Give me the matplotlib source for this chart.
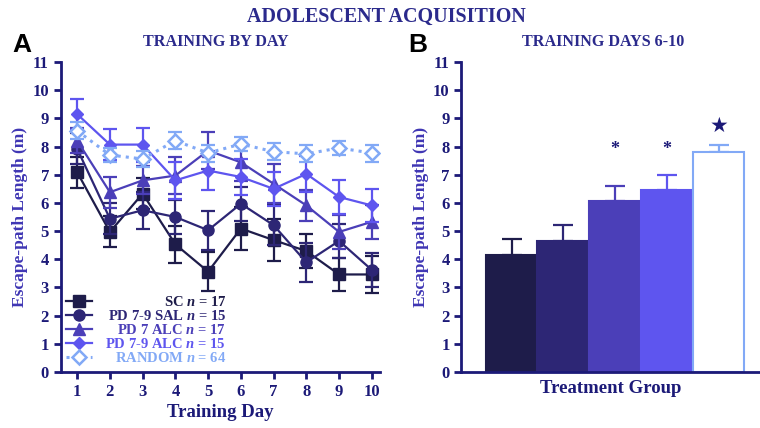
import numpy as np
import matplotlib
matplotlib.use("Agg")
import matplotlib.pyplot as plt

# ---- data ----
days = [1, 2, 3, 4, 5, 6, 7, 8, 9, 10]

sc = [7.09, 4.97, 6.33, 4.53, 3.56, 5.09, 4.68, 4.29, 3.46, 3.46]
sc_err = [0.55, 0.55, 0.55, 0.65, 0.70, 0.75, 0.75, 0.60, 0.60, 0.65]

sal = [7.92, 5.44, 5.74, 5.50, 5.03, 5.97, 5.21, 3.89, 4.65, 3.62]
sal_err = [0.55, 0.55, 0.65, 0.60, 0.70, 0.60, 0.70, 0.70, 0.60, 0.60]

alc7 = [8.21, 6.38, 6.80, 6.97, 7.86, 7.44, 6.68, 5.91, 4.97, 5.33]
alc7_err = [0.45, 0.55, 0.50, 0.65, 0.65, 0.65, 0.70, 0.55, 0.60, 0.60]

alc79 = [9.15, 8.07, 8.07, 6.80, 7.15, 6.92, 6.50, 7.03, 6.21, 5.91]
alc79_err = [0.55, 0.55, 0.60, 0.65, 0.70, 0.65, 0.60, 0.65, 0.60, 0.60]

rand = [8.56, 7.70, 7.56, 8.21, 7.77, 8.09, 7.82, 7.74, 7.95, 7.77]
rand_err = [0.30, 0.25, 0.30, 0.30, 0.30, 0.25, 0.30, 0.30, 0.25, 0.30]

groups = ["SC", "PD 7-9 SAL", "PD 7 ALC", "PD 7-9 ALC", "RANDOM"]
ns = [17, 15, 17, 15, 64]

bar_means = [4.15, 4.65, 6.07, 6.47, 7.82]
bar_err = [0.57, 0.55, 0.53, 0.53, 0.23]
star_marks = ["", "", "*", "*", "\u2605"]
star_y = [0, 0, 7.9, 7.9, 8.75]

colors = ["#1e1c4a", "#2d2675", "#4b3fb8", "#5e55ef", "#82a9f6"]
markers = ["s", "o", "^", "D", "D"]
msizes = [8, 8, 8, 6, 7]

NAVY = "#1c1a78"
LABEL = "#3f36b4"

plt.rcParams["font.family"] = ["Liberation Serif", "DejaVu Sans"]
plt.rcParams["font.weight"] = "bold"
plt.rcParams["axes.labelweight"] = "bold"
plt.rcParams["mathtext.fontset"] = "custom"
plt.rcParams["mathtext.it"] = "Liberation Serif:italic:bold"
plt.rcParams["mathtext.rm"] = "Liberation Serif:bold"

fig = plt.figure(figsize=(7.6, 4.28), dpi=100)
axA = fig.add_axes([0.080, 0.131, 0.420, 0.724])
axB = fig.add_axes([0.607, 0.131, 0.393, 0.724])


def style_axis(ax):
    for s in ["top", "right"]:
        ax.spines[s].set_visible(False)
    for s in ["left", "bottom"]:
        ax.spines[s].set_color(NAVY)
        ax.spines[s].set_linewidth(2)
    ax.tick_params(colors=NAVY, width=2, length=5, labelsize=12)
    for lab in ax.get_yticklabels() + ax.get_xticklabels():
        lab.set_fontweight("bold")
    ax.set_ylim(0, 11)
    ax.set_yticks(range(0, 12))


# ---- panel A ----
series = [sc, sal, alc7, alc79, rand]
errs = [sc_err, sal_err, alc7_err, alc79_err, rand_err]
for i in range(5):
    ls = ":" if i == 4 else "-"
    face = "white" if i == 4 else colors[i]
    axA.errorbar(days, series[i], yerr=errs[i], fmt="none", ecolor=colors[i],
                 elinewidth=1.6, capsize=5, capthick=1.6, zorder=2 + i)
    axA.plot(days, series[i], linestyle=ls, color=colors[i], lw=2.2 if i == 4 else 1.6,
             marker=markers[i], markersize=msizes[i], markerfacecolor=face,
             markeredgecolor=colors[i], markeredgewidth=1.8 if i == 4 else 1,
             zorder=3 + i,
             label=r"%s $n$ = %d" % (groups[i], ns[i]))

style_axis(axA)
axA.set_xlim(0.5, 10.25)
axA.set_xticks(days)
axA.set_xlabel("Training Day", fontsize=13.5, color=NAVY, labelpad=3)
axA.set_ylabel("Escape-path Length (m)", fontsize=12.5, color=LABEL, labelpad=3)

leg = axA.legend(loc="lower left", bbox_to_anchor=(-0.015, -0.01), frameon=False,
                 fontsize=10.5, handlelength=1.8, handletextpad=0.3,
                 labelspacing=0.0, borderpad=0.2)
for t, c in zip(leg.get_texts(), colors):
    t.set_color(c)
    t.set_fontweight("bold")
# right-align the label text against a common width, like the original
for col in leg._legend_handle_box.get_children():
    for row in col.get_children():
        row.mode = "expand"
        row.width = 160

# ---- panel B ----
x = np.arange(len(bar_means))
face_cols = colors[:4] + ["white"]
axB.bar(x, bar_means, width=1.0, color=face_cols, edgecolor=colors, linewidth=1.5, zorder=2)
for i in range(5):
    axB.errorbar(x[i], bar_means[i], yerr=[[0], [bar_err[i]]], fmt="none",
                 ecolor=colors[i], elinewidth=1.6, capsize=7, capthick=1.6, zorder=1)
    if star_marks[i]:
        axB.text(x[i], star_y[i], star_marks[i], ha="center", va="center",
                 fontsize=15 if i == 4 else 13, color=NAVY,
                 family=["DejaVu Sans"] if i == 4 else None)

style_axis(axB)
axB.set_xlim(-0.97, 4.8)
axB.set_xticks([])
axB.set_xlabel("Treatment Group", fontsize=13.5, color=NAVY, labelpad=6)
axB.set_ylabel("Escape-path Length (m)", fontsize=12.5, color=LABEL, labelpad=3)

# ---- titles and panel letters ----
fig.text(0.508, 0.96, "ADOLESCENT ACQUISITION", ha="center", va="center",
         fontsize=14.4, color="#2b2a8c", fontweight="bold")
fig.text(0.284, 0.902, "TRAINING BY DAY", ha="center", va="center",
         fontsize=11.6, color="#2b2a8c", fontweight="bold")
fig.text(0.793, 0.902, "TRAINING DAYS 6-10", ha="center", va="center",
         fontsize=11.6, color="#2b2a8c", fontweight="bold")
fig.text(0.016, 0.895, "A", fontsize=19, fontweight="bold", family="Liberation Sans",
         va="center", color="black")
fig.text(0.537, 0.895, "B", fontsize=19, fontweight="bold", family="Liberation Sans",
         va="center", color="black")

fig.savefig("out.png", dpi=100)
